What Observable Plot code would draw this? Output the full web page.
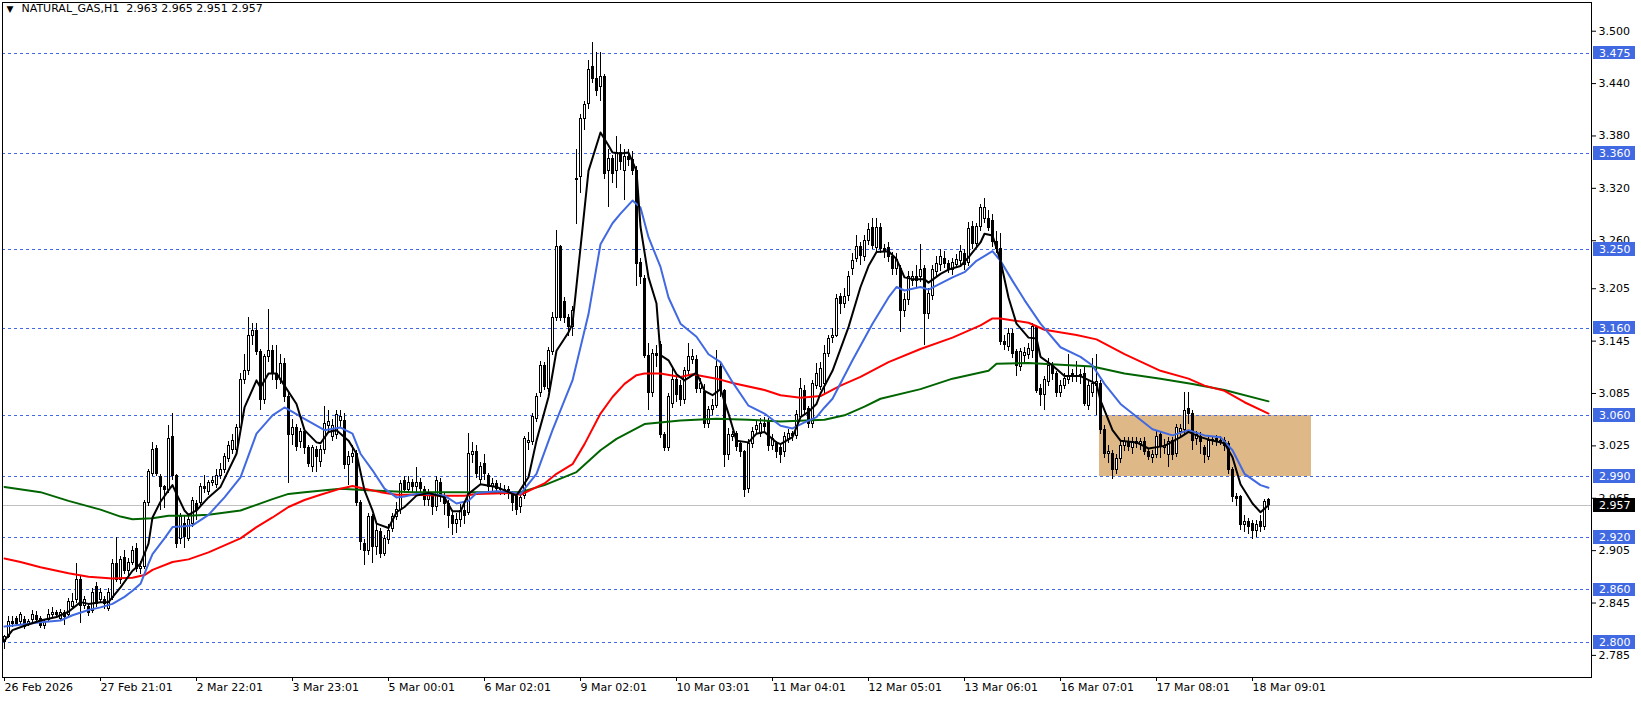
<!DOCTYPE html>
<html>
<head>
<meta charset="utf-8">
<script src="https://cdn.jsdelivr.net/npm/d3@7"></script>
<script src="https://cdn.jsdelivr.net/npm/@observablehq/plot@0.6"></script>
<style>
  html, body { margin: 0; padding: 0; background: #ffffff; }
  #chart { width: 1641px; height: 701px; }
</style>
</head>
<body>
<div id="chart"></div>
<script>
// ---------- DATA (hourly bars, index 0 = first visible bar) ----------
const opens = [
2.800,2.806,2.823,2.827,2.823,2.826,2.820,2.825,2.830,2.827,
2.819,2.825,2.831,2.834,2.827,2.833,2.831,2.840,2.848,2.871,
2.842,2.840,2.836,2.863,2.848,2.848,2.838,2.851,2.890,2.871,
2.897,2.882,2.891,2.907,2.884,2.886,2.960,2.993,3.021,2.989,
2.978,2.974,3.035,2.990,2.918,2.936,2.918,2.936,2.958,2.959,
2.978,2.972,2.982,2.980,2.990,2.997,3.010,3.020,3.020,3.046,
3.100,3.111,3.151,3.157,3.132,3.077,3.127,3.134,3.107,3.100,
3.119,3.081,3.037,3.046,3.030,3.041,3.022,3.001,3.020,3.006,
3.020,3.048,3.035,3.038,3.054,3.054,3.003,3.012,3.016,2.960,
2.913,2.905,2.943,2.909,2.926,2.901,2.917,2.930,2.943,2.951,
2.985,2.975,2.983,2.978,2.983,2.974,2.963,2.967,2.955,2.983,
2.966,2.958,2.945,2.935,2.940,2.950,2.948,3.014,3.018,2.986,
3.004,2.990,2.978,2.981,2.976,2.974,2.975,2.970,2.966,2.955,
2.968,3.028,3.029,3.056,3.085,3.117,3.090,3.132,3.172,3.253,
3.190,3.172,3.161,3.329,3.333,3.400,3.417,3.459,3.445,3.436,
3.447,3.340,3.354,3.340,3.360,3.340,3.356,3.352,3.340,3.235,
3.216,3.128,3.085,3.130,3.140,3.037,3.022,3.073,3.100,3.094,
3.077,3.111,3.123,3.123,3.090,3.087,3.050,3.066,3.071,3.115,
3.088,3.014,3.035,3.039,3.027,3.018,2.976,3.027,3.043,3.039,
3.050,3.052,3.025,3.027,3.022,3.018,3.033,3.039,3.036,3.058,
3.088,3.067,3.050,3.094,3.092,3.096,3.130,3.149,3.151,3.195,
3.188,3.197,3.228,3.239,3.253,3.241,3.260,3.275,3.252,3.275,
3.251,3.252,3.241,3.228,3.228,3.180,3.192,3.214,3.218,3.218,
3.228,3.176,3.197,3.224,3.232,3.239,3.233,3.226,3.232,3.237,
3.245,3.235,3.276,3.256,3.276,3.285,3.285,3.283,3.258,3.251,
3.144,3.138,3.153,3.132,3.115,3.128,3.129,3.134,3.161,3.090,
3.083,3.098,3.117,3.107,3.085,3.094,3.100,3.107,3.104,3.106,
3.107,3.071,3.086,3.094,3.096,3.043,3.016,3.016,2.997,3.010,
3.025,3.029,3.022,3.029,3.027,3.029,3.018,3.011,3.014,3.037,
3.023,3.014,3.031,3.016,3.041,3.043,3.067,3.062,3.033,3.035,
3.022,3.012,3.031,3.033,3.030,3.031,3.027,2.997,2.966,2.966,
2.934,2.938,2.936,2.928,2.938,2.932,2.963];

const highs = [
2.808,2.830,2.829,2.830,2.834,2.829,2.826,2.836,2.835,2.830,
2.826,2.838,2.840,2.837,2.838,2.836,2.850,2.856,2.890,2.875,
2.852,2.845,2.862,2.868,2.862,2.853,2.862,2.895,2.920,2.898,
2.905,2.896,2.910,2.913,2.892,2.962,2.998,3.029,3.025,2.992,
2.980,3.048,3.062,2.992,2.948,2.945,2.945,2.966,2.962,2.982,
2.991,2.985,2.990,2.998,3.005,3.016,3.030,3.038,3.050,3.108,
3.130,3.172,3.165,3.165,3.135,3.130,3.181,3.140,3.140,3.130,
3.125,3.085,3.055,3.050,3.045,3.045,3.025,3.025,3.024,3.025,
3.070,3.066,3.055,3.066,3.065,3.062,3.018,3.025,3.020,2.963,
2.918,2.948,2.946,2.935,2.930,2.922,2.935,2.948,2.960,2.985,
2.990,2.990,2.987,3.000,2.988,2.978,2.975,2.972,2.990,2.988,
2.970,2.962,2.950,2.948,2.958,2.958,3.039,3.029,3.025,3.006,
3.015,2.993,2.988,2.985,2.982,2.980,2.979,2.973,2.970,2.970,
3.036,3.040,3.062,3.085,3.122,3.120,3.138,3.178,3.272,3.255,
3.195,3.175,3.185,3.365,3.405,3.420,3.466,3.487,3.476,3.476,
3.450,3.365,3.358,3.379,3.370,3.365,3.365,3.362,3.345,3.240,
3.220,3.142,3.135,3.140,3.145,3.040,3.085,3.115,3.105,3.100,
3.115,3.142,3.135,3.128,3.102,3.095,3.070,3.078,3.134,3.120,
3.090,3.045,3.042,3.042,3.030,3.020,3.032,3.046,3.054,3.056,
3.058,3.056,3.038,3.030,3.025,3.040,3.044,3.042,3.066,3.102,
3.094,3.070,3.100,3.119,3.120,3.140,3.152,3.160,3.198,3.200,
3.205,3.225,3.245,3.266,3.258,3.266,3.280,3.285,3.285,3.280,
3.256,3.258,3.246,3.245,3.232,3.200,3.225,3.225,3.232,3.256,
3.232,3.205,3.232,3.242,3.250,3.248,3.237,3.240,3.244,3.255,
3.250,3.281,3.282,3.280,3.302,3.308,3.295,3.290,3.270,3.268,
3.152,3.160,3.158,3.135,3.137,3.138,3.142,3.165,3.163,3.095,
3.105,3.125,3.121,3.110,3.100,3.108,3.130,3.112,3.122,3.112,
3.115,3.100,3.125,3.130,3.100,3.048,3.025,3.020,3.015,3.030,
3.035,3.035,3.035,3.035,3.033,3.035,3.022,3.020,3.042,3.040,
3.032,3.035,3.035,3.050,3.050,3.086,3.086,3.065,3.042,3.040,
3.026,3.035,3.036,3.037,3.036,3.035,3.030,3.000,2.970,2.968,
2.945,2.942,2.940,2.940,2.945,2.964,2.965];

const lows = [
2.792,2.804,2.817,2.818,2.820,2.815,2.818,2.822,2.823,2.816,
2.815,2.823,2.828,2.828,2.825,2.819,2.829,2.838,2.845,2.822,
2.838,2.830,2.833,2.840,2.844,2.838,2.835,2.848,2.868,2.866,
2.878,2.875,2.888,2.880,2.878,2.883,2.955,2.990,2.990,2.951,
2.953,2.970,2.985,2.907,2.912,2.907,2.915,2.932,2.940,2.955,
2.970,2.968,2.978,2.976,2.986,2.993,3.006,3.015,3.015,3.042,
3.095,3.106,3.140,3.128,3.066,3.072,3.120,3.100,3.090,3.095,
3.075,2.982,3.025,3.018,3.022,3.015,3.000,2.995,2.995,3.000,
3.015,3.040,3.030,3.032,3.045,2.998,2.980,3.005,2.955,2.905,
2.888,2.900,2.890,2.900,2.896,2.898,2.912,2.926,2.940,2.946,
2.970,2.972,2.972,2.968,2.970,2.955,2.955,2.945,2.950,2.960,
2.945,2.930,2.922,2.925,2.932,2.935,2.945,3.005,2.988,2.980,
2.985,2.972,2.972,2.970,2.968,2.968,2.964,2.950,2.945,2.947,
2.964,3.020,3.025,3.052,3.080,3.088,3.086,3.128,3.168,3.168,
3.165,3.150,3.150,3.279,3.314,3.386,3.410,3.440,3.425,3.420,
3.330,3.298,3.325,3.320,3.340,3.306,3.345,3.335,3.207,3.210,
3.125,3.066,3.080,3.115,3.033,3.018,3.018,3.068,3.075,3.070,
3.072,3.105,3.118,3.085,3.085,3.045,3.045,3.060,3.068,3.080,
3.000,3.008,3.030,3.018,3.012,2.966,2.970,3.022,3.038,3.035,
3.040,3.018,3.020,3.010,3.005,3.012,3.028,3.030,3.032,3.055,
3.060,3.045,3.045,3.090,3.088,3.085,3.126,3.142,3.149,3.175,
3.182,3.190,3.220,3.235,3.232,3.236,3.255,3.250,3.245,3.245,
3.240,3.235,3.220,3.220,3.155,3.172,3.186,3.208,3.205,3.212,
3.140,3.170,3.192,3.218,3.225,3.228,3.222,3.220,3.228,3.232,
3.226,3.230,3.250,3.252,3.270,3.280,3.270,3.252,3.245,3.140,
3.134,3.133,3.125,3.104,3.110,3.118,3.124,3.125,3.085,3.070,
3.065,3.093,3.100,3.080,3.080,3.090,3.095,3.098,3.098,3.095,
3.070,3.066,3.080,3.060,3.038,3.010,3.005,2.987,2.992,3.005,
3.018,3.018,3.015,3.022,3.020,3.014,3.008,3.005,3.010,3.010,
3.015,3.000,3.008,3.012,3.035,3.038,3.050,3.020,3.025,3.015,
3.005,3.008,3.025,3.024,3.025,3.018,2.992,2.960,2.955,2.928,
2.926,2.924,2.918,2.920,2.926,2.928,2.951];

const closes = [
2.806,2.823,2.821,2.821,2.831,2.818,2.823,2.831,2.826,2.819,
2.823,2.831,2.834,2.831,2.833,2.829,2.846,2.846,2.871,2.842,
2.848,2.834,2.857,2.844,2.856,2.844,2.857,2.890,2.871,2.894,
2.882,2.891,2.905,2.884,2.886,2.959,2.995,3.020,2.993,2.978,
2.974,3.033,2.990,2.913,2.943,2.921,2.940,2.962,2.951,2.978,
2.976,2.982,2.985,2.991,2.997,3.012,3.025,3.031,3.046,3.100,
3.111,3.151,3.157,3.132,3.077,3.127,3.134,3.107,3.100,3.119,
3.081,3.037,3.046,3.024,3.041,3.022,3.004,3.022,3.012,3.020,
3.050,3.052,3.048,3.060,3.058,3.003,3.012,3.016,2.959,2.915,
2.905,2.943,2.909,2.928,2.901,2.918,2.928,2.943,2.951,2.981,
2.974,2.983,2.978,2.983,2.976,2.963,2.969,2.955,2.985,2.968,
2.958,2.945,2.935,2.940,2.950,2.945,3.016,3.018,2.993,3.001,
2.993,2.978,2.981,2.976,2.974,2.975,2.970,2.959,2.951,2.965,
3.033,3.031,3.058,3.081,3.117,3.092,3.134,3.172,3.253,3.172,
3.172,3.161,3.180,3.331,3.400,3.415,3.456,3.445,3.432,3.447,
3.337,3.354,3.337,3.360,3.350,3.356,3.352,3.340,3.233,3.218,
3.128,3.085,3.130,3.128,3.037,3.022,3.081,3.100,3.083,3.077,
3.111,3.127,3.127,3.090,3.096,3.050,3.066,3.071,3.115,3.088,
3.014,3.037,3.037,3.024,3.018,2.974,3.027,3.041,3.048,3.050,
3.047,3.025,3.033,3.018,3.014,3.035,3.039,3.036,3.060,3.090,
3.066,3.050,3.096,3.107,3.113,3.130,3.147,3.151,3.193,3.188,
3.195,3.218,3.237,3.253,3.243,3.260,3.272,3.254,3.275,3.251,
3.247,3.241,3.228,3.238,3.180,3.192,3.218,3.218,3.214,3.226,
3.176,3.199,3.226,3.233,3.241,3.233,3.227,3.234,3.238,3.247,
3.232,3.274,3.256,3.276,3.297,3.297,3.275,3.258,3.251,3.144,
3.140,3.153,3.130,3.117,3.132,3.131,3.136,3.161,3.088,3.083,
3.100,3.117,3.107,3.085,3.094,3.102,3.105,3.104,3.105,3.104,
3.073,3.094,3.096,3.098,3.043,3.016,3.018,2.997,3.010,3.025,
3.029,3.024,3.029,3.027,3.029,3.018,3.012,3.014,3.035,3.024,
3.025,3.029,3.014,3.046,3.044,3.065,3.062,3.031,3.037,3.029,
3.014,3.031,3.032,3.029,3.031,3.025,2.997,2.966,2.964,2.934,
2.938,2.932,2.928,2.934,2.932,2.961,2.957];

// Moving averages (bar index, value)
const fastBars = [0,2,5,9,13,16,19,21,24,26,29,32,34,36,37,39,41,42,43,45,46,48,51,54,58,60,63,64,66,68,70,73,75,78,79,81,83,86,88,90,92,93,96,98,100,103,106,110,112,114,116,119,123,126,128,131,133,136,138,140,141,142,144,146,149,151,152,154,156,158,159,161,163,164,166,168,170,173,175,177,179,181,183,186,188,190,193,194,197,199,201,203,204,207,211,214,216,218,221,223,225,227,230,231,234,236,239,241,244,245,247,249,251,253,256,258,259,262,265,269,273,274,277,279,283,286,290,294,296,299,302,305,307,309,312,314,316];
const fastVals = [2.802,2.814,2.819,2.825,2.829,2.835,2.846,2.844,2.846,2.846,2.863,2.882,2.890,2.913,2.943,2.961,2.974,2.980,2.970,2.951,2.946,2.951,2.966,2.978,3.016,3.069,3.100,3.092,3.108,3.108,3.094,3.073,3.043,3.029,3.028,3.041,3.043,3.031,3.016,2.974,2.951,2.936,2.931,2.949,2.955,2.968,2.971,2.966,2.950,2.950,2.970,2.981,2.978,2.972,2.968,2.989,3.031,3.081,3.134,3.148,3.155,3.165,3.252,3.340,3.384,3.369,3.361,3.360,3.361,3.340,3.276,3.218,3.188,3.129,3.123,3.107,3.100,3.109,3.088,3.083,3.090,3.062,3.031,3.029,3.039,3.041,3.029,3.027,3.035,3.058,3.064,3.073,3.085,3.111,3.161,3.207,3.231,3.247,3.248,3.239,3.218,3.216,3.216,3.212,3.222,3.227,3.231,3.241,3.258,3.268,3.266,3.237,3.195,3.165,3.149,3.148,3.127,3.117,3.105,3.105,3.096,3.077,3.043,3.031,3.029,3.022,3.025,3.035,3.041,3.035,3.031,3.028,3.012,2.981,2.959,2.949,2.957];

const midBars = [0,4,9,14,17,21,24,27,30,32,34,36,37,40,42,45,47,49,51,55,59,63,67,70,72,75,80,84,87,89,92,95,98,100,103,107,110,113,116,118,123,127,129,133,137,142,146,149,152,154,157,159,161,164,166,169,173,176,179,182,186,190,194,197,200,203,205,207,212,217,221,223,225,229,231,237,240,243,247,249,252,255,259,264,269,272,275,279,282,287,292,296,300,304,307,310,314,316];
const midVals = [2.818,2.820,2.823,2.825,2.831,2.837,2.840,2.844,2.852,2.859,2.867,2.890,2.901,2.919,2.932,2.933,2.934,2.940,2.946,2.966,2.989,3.039,3.060,3.069,3.064,3.056,3.043,3.046,3.039,3.016,2.997,2.976,2.966,2.967,2.970,2.970,2.968,2.959,2.962,2.971,2.973,2.972,2.970,2.993,3.043,3.100,3.176,3.256,3.280,3.291,3.306,3.298,3.264,3.230,3.195,3.165,3.150,3.130,3.121,3.098,3.071,3.062,3.048,3.045,3.052,3.058,3.069,3.079,3.123,3.165,3.195,3.207,3.203,3.207,3.204,3.218,3.224,3.237,3.248,3.237,3.214,3.192,3.165,3.138,3.127,3.117,3.096,3.073,3.062,3.044,3.037,3.043,3.037,3.035,3.020,2.993,2.980,2.977];

const slowBars = [0,4,9,16,21,27,32,35,37,42,46,51,55,59,63,67,71,75,79,84,87,90,94,98,102,110,115,118,127,129,135,138,142,145,149,152,155,158,160,164,169,172,178,182,190,194,199,204,209,214,221,229,237,244,247,249,256,260,268,273,280,289,296,300,305,310,316];
const slowVals = [2.896,2.892,2.886,2.879,2.875,2.873,2.874,2.877,2.883,2.892,2.895,2.903,2.911,2.919,2.932,2.943,2.955,2.963,2.969,2.976,2.979,2.976,2.972,2.969,2.969,2.968,2.968,2.970,2.971,2.969,2.982,2.993,3.004,3.027,3.062,3.081,3.096,3.106,3.108,3.108,3.104,3.107,3.102,3.097,3.089,3.083,3.080,3.082,3.094,3.104,3.121,3.136,3.149,3.163,3.171,3.171,3.166,3.158,3.152,3.147,3.130,3.111,3.102,3.094,3.088,3.075,3.062];

const longBars = [0,9,16,24,29,32,37,41,46,51,59,67,71,75,84,92,102,129,135,143,149,153,160,169,178,186,194,205,210,215,219,229,237,246,248,256,264,272,280,289,297,305,316];
const longVals = [2.978,2.972,2.962,2.952,2.944,2.941,2.942,2.945,2.945,2.946,2.951,2.964,2.970,2.972,2.976,2.974,2.972,2.972,2.980,2.995,3.020,3.033,3.050,3.054,3.056,3.055,3.053,3.055,3.060,3.070,3.079,3.090,3.102,3.111,3.119,3.120,3.118,3.116,3.108,3.102,3.096,3.089,3.076];

const levels = [3.475, 3.360, 3.250, 3.160, 3.060, 2.990, 2.920, 2.860, 2.800];
const currentPrice = 2.957;
const zoneBars = [273.75, 326.7];
const zonePrices = [2.990, 3.060];
const priceTicks = [3.500, 3.440, 3.380, 3.320, 3.260, 3.205, 3.145, 3.085, 3.025, 2.965, 2.905, 2.845, 2.785];
const dateBars = [0, 24, 48, 72, 96, 120, 144, 168, 192, 216, 240, 264, 288, 312];
const dateLabels = ["26 Feb 2026","27 Feb 21:01","2 Mar 22:01","3 Mar 23:01","5 Mar 00:01","6 Mar 02:01","9 Mar 02:01","10 Mar 03:01","11 Mar 04:01","12 Mar 05:01","13 Mar 06:01","16 Mar 07:01","17 Mar 08:01","18 Mar 09:01"];
const symbolTitle = "NATURAL_GAS,H1\u00a0\u00a02.963 2.965 2.951 2.957";

// ---------- BUILD ----------
const bars = closes.map((c, i) => ({i, o: opens[i], h: highs[i], l: lows[i], c}));
const upBars = bars.filter(d => d.c >= d.o);
const downBars = bars.filter(d => d.c < d.o);
const dojiBars = bars.filter(d => Math.abs(d.c - d.o) < 0.0015);
const pts = (xs, ys) => xs.map((x, k) => ({x, y: ys[k]}));

const pxPerUnit = 873;            // price -> pixel ratio of the picture
const boxHalf = 6.8 / pxPerUnit;  // half-height of the axis price boxes
const blue = "#4169E1";
const crisp = "crispEdges";

const chart = Plot.plot({
  width: 1641,
  height: 701,
  marginLeft: 2,
  marginRight: 50,
  marginTop: 2,
  marginBottom: 24,
  style: {fontFamily: "'DejaVu Sans', sans-serif", fontSize: "11px", background: "#ffffff", color: "#000000", overflow: "visible"},
  x: {domain: [-0.5, 396.75]},
  y: {domain: [2.75968, 3.53288]},
  marks: [
    Plot.rect([0], {x1: zoneBars[0], x2: zoneBars[1], y1: zonePrices[0], y2: zonePrices[1], fill: "#DEB887", shapeRendering: crisp}),
    Plot.ruleY(levels, {stroke: blue, strokeDasharray: "3,3", strokeWidth: 1, shapeRendering: crisp}),
    Plot.ruleY([currentPrice], {stroke: "#C0C0C0", strokeWidth: 1, shapeRendering: crisp}),
    Plot.ruleX(bars, {x: "i", y1: "l", y2: "h", stroke: "#000000", strokeWidth: 1, shapeRendering: crisp}),
    Plot.rect(upBars, {x1: d => d.i - 0.25, x2: d => d.i + 0.25, y1: "o", y2: "c", fill: "#ffffff", stroke: "#000000", strokeWidth: 1, shapeRendering: crisp}),
    Plot.rect(downBars, {x1: d => d.i - 0.25, x2: d => d.i + 0.25, y1: "o", y2: "c", fill: "#000000", stroke: "#000000", strokeWidth: 1, shapeRendering: crisp}),
    Plot.ruleY(dojiBars, {x1: d => d.i - 0.375, x2: d => d.i + 0.375, y: "c", stroke: "#000000", strokeWidth: 1, shapeRendering: crisp}),
    Plot.line(pts(longBars, longVals), {x: "x", y: "y", stroke: "#006400", strokeWidth: 2}),
    Plot.line(pts(slowBars, slowVals), {x: "x", y: "y", stroke: "#FF0000", strokeWidth: 2}),
    Plot.line(pts(midBars, midVals), {x: "x", y: "y", stroke: blue, strokeWidth: 2}),
    Plot.line(pts(fastBars, fastVals), {x: "x", y: "y", stroke: "#000000", strokeWidth: 2}),
    Plot.frame({stroke: "#000000", shapeRendering: crisp}),
    Plot.axisY(priceTicks, {anchor: "right", tickSize: 4, tickPadding: 3, tickFormat: d => d.toFixed(3), label: null, fontSize: 11}),
    Plot.axisX(dateBars, {anchor: "bottom", tickSize: 4, tickPadding: 2, tickFormat: d => dateLabels[dateBars.indexOf(d)], textAnchor: "start", label: null, fontSize: 11}),
    Plot.rect(levels, {x1: 397.25, x2: 407.75, y1: d => d - boxHalf, y2: d => d + boxHalf, fill: blue, shapeRendering: crisp}),
    Plot.text(levels, {x: 398.6, y: d => d, text: d => d.toFixed(3), fill: "#ffffff", textAnchor: "start", fontSize: 11}),
    Plot.rect([currentPrice], {x1: 397.25, x2: 407.75, y1: d => d - boxHalf, y2: d => d + boxHalf, fill: "#000000", shapeRendering: crisp}),
    Plot.text([currentPrice], {x: 398.6, y: d => d, text: d => d.toFixed(3), fill: "#ffffff", textAnchor: "start", fontSize: 11}),
    Plot.text(["\u25BC"], {frameAnchor: "top-left", dx: 4, dy: 3, fontSize: 9, textAnchor: "start", lineAnchor: "top", fill: "#000000"}),
    Plot.text([symbolTitle], {frameAnchor: "top-left", dx: 19, dy: 2, fontSize: 11, textAnchor: "start", lineAnchor: "top", fill: "#000000"})
  ]
});
document.getElementById("chart").appendChild(chart);
</script>
</body>
</html>
